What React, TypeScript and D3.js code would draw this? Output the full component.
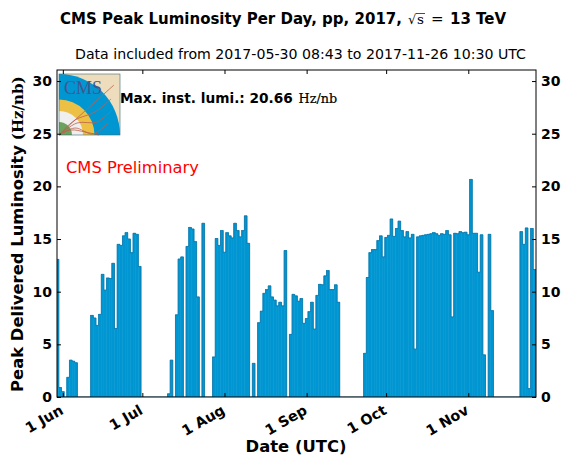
import React, { useRef, useEffect } from "react";
import * as d3 from "d3";

const width = 561;
const height = 459;
const firstDay = Date.UTC(2017, 4, 30);
const dayMs = 86400000;

// peak delivered luminosity per day, starting 2017-05-30
const juneLumi = [13.07, 0.9, 0.5, 0, 1.87, 3.5, 3.4, 3.25, 0, 0, 0, 0, 0, 7.75, 7.5, 6.8, 7.85, 11.65, 10.15, 11.3, 11.25, 12.7, 6.5, 14.5, 14.4, 15.3, 15.6, 15.0, 13.7, 15.55, 15.45, 12.4];
const julyLumi = [0, 0, 0, 0, 0, 0, 0, 0, 0, 0, 0.3, 3.5, 0, 7.8, 13.1, 13.3, 0, 14.3, 16.1, 15.95, 14.75, 9.5, 0, 16.5, 0, 0, 0, 3.8, 15.05, 14.4, 15.8];
const augustLumi = [13.75, 15.6, 15.3, 15.1, 16.5, 15.8, 15.2, 15.8, 17.2, 14.6, 0, 3.2, 0, 7.05, 8.15, 9.85, 10.2, 10.55, 9.5, 9.2, 8.65, 9.0, 8.65, 13.9, 0, 5.95, 9.75, 9.6, 9.1, 9.35, 7.0];
const septemberLumi = [7.45, 8.1, 9.0, 6.45, 9.65, 10.7, 10.65, 11.5, 12.0, 10.2, 10.2, 10.65, 9.0, 0, 0, 0, 0, 0, 0, 0, 0, 0, 4.15, 11.35, 13.7, 14.0, 14.0, 14.85, 15.3, 13.3];
const octoberLumi = [15.15, 15.35, 16.9, 15.25, 16.0, 16.7, 15.8, 15.2, 15.7, 15.1, 15.45, 4.55, 15.2, 15.3, 15.35, 15.4, 15.45, 15.5, 15.6, 15.5, 15.35, 15.5, 15.45, 15.8, 15.4, 7.6, 15.55, 15.5, 15.7, 15.6, 15.65];
const novemberLumi = [15.4, 20.66, 15.55, 15.55, 11.85, 15.4, 4.0, 0, 15.45, 8.2, 0, 0, 0, 0, 0, 0, 0, 0, 0, 0, 15.7, 14.5, 16.05, 0.8, 16.0, 12.1];
const peakLumi = [...juneLumi, ...julyLumi, ...augustLumi, ...septemberLumi, ...octoberLumi, ...novemberLumi];

const yTicks = [0, 5, 10, 15, 20, 25, 30];
const monthTicks = [
  new Date(Date.UTC(2017, 5, 1)),
  new Date(Date.UTC(2017, 6, 1)),
  new Date(Date.UTC(2017, 7, 1)),
  new Date(Date.UTC(2017, 8, 1)),
  new Date(Date.UTC(2017, 9, 1)),
  new Date(Date.UTC(2017, 10, 1)),
];

const logoTracks = [
  [[0, 61], [16, 46], [36, 28], [55, 11]],
  [[0, 61], [16, 46], [36, 38], [52, 25]],
  [[0, 61], [18, 49], [38, 48], [53, 36]],
  [[0, 61], [16, 54], [34, 60], [49, 49]],
  [[0, 61], [12, 56], [26, 58], [40, 61]],
];

const sans = "'DejaVu Sans', sans-serif";
const serif = "'DejaVu Serif', serif";

const App = () => {
  const svgRef = useRef<SVGSVGElement>(null);

  useEffect(() => {
    const svg = d3.select(svgRef.current);
    svg.selectAll("*").remove();

    const left = 57, right = 536, top = 70, bottom = 397;

    const x = d3.scaleUtc()
      .domain([new Date(firstDay - 0.2 * dayMs), new Date(firstDay + 180.55 * dayMs)])
      .range([left, right]);
    const y = d3.scaleLinear().domain([0, 31.05]).range([bottom, top]);
    const dayX = (i: number) => x(new Date(firstDay + i * dayMs));
    const halfBar = (dayX(1) - dayX(0)) / 2;

    svg.append("defs").append("clipPath").attr("id", "plot")
      .append("rect").attr("x", left).attr("y", top)
      .attr("width", right - left).attr("height", bottom - top);

    const plot = svg.append("g").attr("clip-path", "url(#plot)");

    // bars, one per day, centred on the date
    plot.selectAll("rect")
      .data(peakLumi)
      .join("rect")
      .attr("x", (d, i) => dayX(i) - halfBar)
      .attr("y", d => y(d))
      .attr("width", halfBar * 2)
      .attr("height", d => bottom - y(d))
      .attr("fill", "#0096d2")
      .attr("stroke", "#0096d2")
      .attr("stroke-width", 0.5);

    // outline over the tops of the bars
    const outline = d3.line<number>()
      .x((d, i) => dayX(i) - halfBar)
      .y(d => y(d))
      .curve(d3.curveStepAfter);
    plot.append("path")
      .attr("d", outline([...peakLumi, 0]))
      .attr("fill", "none")
      .attr("stroke", "#0c6f9f")
      .attr("stroke-width", 0.7);

    // logo
    const logo = svg.append("g").attr("transform", "translate(59,74)");
    logo.append("rect").attr("width", 61).attr("height", 61).attr("fill", "#edddbd");
    [[61, "#0096d2"], [35.5, "#ecc045"], [24, "#efefef"], [13, "#6aa35f"]].forEach(([r, c]) => {
      logo.append("path")
        .attr("transform", "translate(0,61)")
        .attr("d", d3.arc()({ innerRadius: 0, outerRadius: r as number, startAngle: 0, endAngle: Math.PI / 2 }))
        .attr("fill", c as string);
    });
    const trackLine = d3.line().curve(d3.curveCatmullRom);
    logo.selectAll("path.track")
      .data(logoTracks)
      .join("path")
      .attr("class", "track")
      .attr("d", d => trackLine(d as [number, number][]))
      .attr("fill", "none")
      .attr("stroke", "#c0604c")
      .attr("stroke-width", 0.8);
    logo.append("text").attr("x", 5).attr("y", 20)
      .attr("font-family", "'Liberation Serif', serif").attr("font-size", 18).attr("fill", "#44558f")
      .attr("textLength", 38).attr("lengthAdjust", "spacingAndGlyphs")
      .text("CMS");
    logo.append("rect").attr("width", 61).attr("height", 61)
      .attr("fill", "none").attr("stroke", "#3f6a70").attr("stroke-width", 0.6);

    // axes
    const tickStyle = (g: any) => {
      g.select(".domain").remove();
      g.selectAll("line").attr("stroke", "#000").attr("stroke-width", 1);
      g.selectAll("text")
        .attr("font-family", sans).attr("font-weight", "bold").attr("font-size", 14).attr("fill", "#000");
    };

    svg.append("g").attr("transform", `translate(${left},0)`)
      .call(d3.axisRight(y).tickValues(yTicks).tickSize(4).tickFormat(d3.format("d")))
      .call(tickStyle)
      .call((g: any) => g.selectAll("text").attr("x", -5).attr("text-anchor", "end"));
    svg.append("g").attr("transform", `translate(${right},0)`)
      .call(d3.axisLeft(y).tickValues(yTicks).tickSize(4).tickFormat(d3.format("d")))
      .call(tickStyle)
      .call((g: any) => g.selectAll("text").attr("x", 5).attr("text-anchor", "start"));

    svg.append("g").attr("transform", `translate(0,${top})`)
      .call(d3.axisBottom(x).tickValues(monthTicks).tickSize(4).tickFormat(() => ""))
      .call(tickStyle);
    svg.append("g").attr("transform", `translate(0,${bottom})`)
      .call(d3.axisTop(x).tickValues(monthTicks).tickSize(4)
        .tickFormat(d => d3.utcFormat("%-d %b")(d as Date)))
      .call(tickStyle)
      .call((g: any) => g.selectAll("text")
        .attr("text-anchor", "end")
        .attr("dy", 0)
        .attr("y", 0)
        .attr("font-size", 14.4)
        .attr("transform", "translate(1,16) rotate(-30)"));

    svg.append("rect").attr("x", left).attr("y", top)
      .attr("width", right - left).attr("height", bottom - top)
      .attr("fill", "none").attr("stroke", "#000").attr("stroke-width", 1);
  }, []);

  return (
    <svg ref={svgRef} width={width} height={height}
      style={{ position: "absolute", left: 0, top: 0 }} />
  );
};

const Labels = () => (
  <svg width={width} height={height}
    style={{ position: "absolute", left: 0, top: 0, pointerEvents: "none" }}>
    <text x={60} y={24} fontFamily={sans} fontWeight="bold" fontSize={15}>
      CMS Peak Luminosity Per Day, pp, 2017,
    </text>
    <text x={408} y={24} fontFamily={serif} fontSize={13}>√</text>
    <line x1={416} x2={425} y1={13.5} y2={13.5} stroke="#000" strokeWidth={0.7} />
    <text x={417} y={24} fontFamily={serif} fontSize={13.5}>s</text>
    <text x={431} y={24} fontFamily={serif} fontSize={15}>=</text>
    <text x={450} y={24} fontFamily={sans} fontWeight="bold" fontSize={15}>13 TeV</text>
    <text x={75} y={59} fontFamily={sans} fontSize={14.15}>
      Data included from 2017-05-30 08:43 to 2017-11-26 10:30 UTC
    </text>
    <text x={120} y={103} fontFamily={sans} fontWeight="bold" fontSize={13.7}>Max. inst. lumi.: 20.66</text>
    <text x={298.5} y={103} fontFamily={serif} fontSize={12.8} stroke="#000" strokeWidth={0.2}>Hz/nb</text>
    <text x={66} y={173} fontFamily={sans} fontSize={16.3} fill="#ff0000">CMS Preliminary</text>
    <text transform="translate(23,392) rotate(-90)" fontFamily={sans} fontWeight="bold" fontSize={16.4}>
      Peak Delivered Luminosity
      <tspan fontFamily={serif} fontSize={15} dx={5}>(Hz/nb)</tspan>
    </text>
    <text x={296} y={452} textAnchor="middle" fontFamily={sans} fontWeight="bold" fontSize={16.4}>Date (UTC)</text>
  </svg>
);

export default function Root() {
  return (
    <>
      <App />
      <Labels />
    </>
  );
}
